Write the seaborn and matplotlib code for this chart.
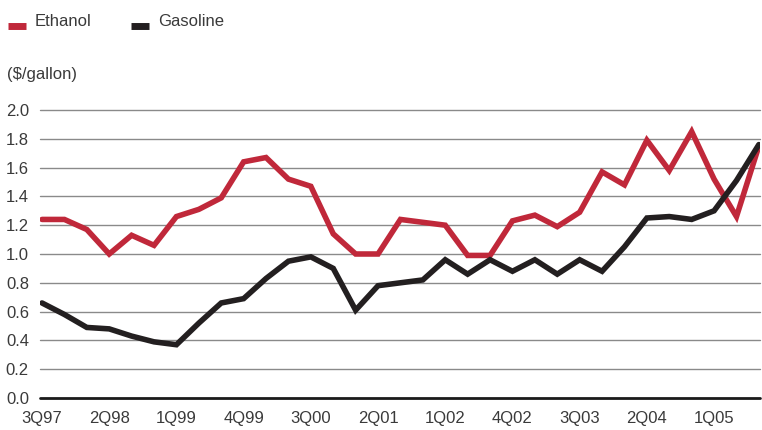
import matplotlib
matplotlib.use("Agg")
import matplotlib.pyplot as plt
import seaborn as sns
import pandas as pd

# Quarterly prices, 3Q97 through 3Q05
quarters = [f"{q}Q{y:02d}" for y, q in
            [(97, 3), (97, 4)] + [(yy % 100, qq) for yy in range(1998, 2005) for qq in (1, 2, 3, 4)]
            + [(5, 1), (5, 2), (5, 3)]]

ethanol = [1.24, 1.24, 1.17, 1.00, 1.13, 1.06, 1.26, 1.31, 1.39, 1.64, 1.67,
           1.52, 1.47, 1.14, 1.00, 1.00, 1.24, 1.22, 1.20, 0.99, 0.99, 1.23,
           1.27, 1.19, 1.29, 1.57, 1.48, 1.79, 1.58, 1.85, 1.52, 1.26, 1.75]
gasoline = [0.66, 0.58, 0.49, 0.48, 0.43, 0.39, 0.37, 0.52, 0.66, 0.69, 0.83,
            0.95, 0.98, 0.90, 0.61, 0.78, 0.80, 0.82, 0.96, 0.86, 0.96, 0.88,
            0.96, 0.86, 0.96, 0.88, 1.05, 1.25, 1.26, 1.24, 1.30, 1.51, 1.76]

series_names = ["Ethanol", "Gasoline"]
series_colors = ["#c0283a", "#231f20"]
y_ticks = [0.0, 0.2, 0.4, 0.6, 0.8, 1.0, 1.2, 1.4, 1.6, 1.8, 2.0]

idx = list(range(len(quarters)))
df = pd.DataFrame({
    "idx": idx * 2,
    "price": ethanol + gasoline,
    "fuel": [series_names[0]] * len(idx) + [series_names[1]] * len(idx),
})

sns.set_style("white")
plt.rcParams["font.family"] = ["Liberation Sans", "DejaVu Sans"]
text_color = "#3a3a3a"

fig = plt.figure(figsize=(7.62, 4.30), dpi=100)
ax = fig.add_axes([40 / 762, 32 / 430, 720 / 762, 288 / 430])

sns.lineplot(data=df, x="idx", y="price", hue="fuel", palette=series_colors,
             hue_order=series_names, linewidth=4.0, ax=ax, legend=False,
             solid_joinstyle="miter")

ax.set_xlim(-0.09, 32.05)
ax.set_ylim(0, 2.0)
ax.set_yticks(y_ticks)
ax.set_yticklabels([f"{v:.1f}" for v in y_ticks], fontsize=12, color=text_color)
tick_pos = idx[::3]
ax.set_xticks(tick_pos)
ax.set_xticklabels([quarters[i] for i in tick_pos], fontsize=12, color=text_color)
ax.tick_params(axis="both", length=0)
ax.tick_params(axis="x", pad=9)
ax.tick_params(axis="y", pad=8)

for v in y_ticks:
    ax.axhline(v, color="#1a1a1a" if v == 0 else "#8a8a8a",
               linewidth=2.0 if v == 0 else 1.0, zorder=0, clip_on=False)

for s in ax.spines.values():
    s.set_visible(False)
ax.set_xlabel("")
ax.set_ylabel("")

# Legend and unit label
for x0, color, name in [(8, series_colors[0], series_names[0]),
                        (131, series_colors[1], series_names[1])]:
    fig.add_artist(plt.Line2D([x0 / 762, (x0 + 18) / 762], [1 - 26 / 430] * 2,
                              color=color, linewidth=5, solid_capstyle="butt"))
    fig.text((x0 + 27) / 762, 1 - 21 / 430, name, fontsize=12,
             color=text_color, va="center", ha="left")

fig.text(7 / 762, 1 - 74 / 430, "($/gallon)", fontsize=12,
         color=text_color, va="center", ha="left")

fig.savefig("out.png", dpi=100)
